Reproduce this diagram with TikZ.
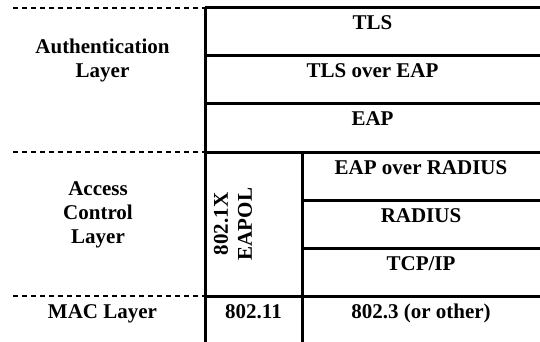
\documentclass[tikz,border=0pt]{standalone}
\usepackage{fontspec}
\setmainfont{Liberation Serif}
\usetikzlibrary{positioning}
\tikzset{
  every node/.style={font=\fontsize{10.5}{12}\selectfont\bfseries, inner sep=0pt, outer sep=0pt},
  cell/.style={text height=11pt, text depth=13pt},
  wide/.style={cell, minimum width=167.5pt},
  half/.style={cell, minimum width=119pt},
  layer/.style={align=center},
  grid/.style={line width=1.5pt},
  layerline/.style={line width=0.6pt, dash pattern=on 2.5pt off 2pt},
}

\begin{document}
\begin{tikzpicture}
    \useasboundingbox (0,0) rectangle (270pt,-171pt);
    \coordinate (floor) at (0,-171pt);

    % upper block
    \node [wide, anchor=north west] (tls) at (102.5pt,-4pt) {TLS};
    \node [wide, below=0pt of tls] (tlseap) {TLS over EAP};
    \node [wide, below=0pt of tlseap] (eap) {EAP};

    % right column
    \node [half, anchor=north east] (eapradius) at (eap.south east) {EAP over RADIUS};
    \node [half, below=0pt of eapradius] (radius) {RADIUS};
    \node [half, below=0pt of radius] (tcpip) {TCP/IP};
    \node [half, below=0pt of tcpip] (dot3) {802.3 (or other)};

    % middle column
    \node [cell, minimum width=48.5pt, anchor=north east] (dot11) at (dot3.north west) {802.11};
    \node [layer, rotate=90] (eapol) at ([xshift=-34.5pt]radius.west) {802.1X\\EAPOL};

    % layer names
    \node [layer] (auth) at (51.25pt,-30pt) {Authentication\\Layer};
    \node [layer] (access) at (49pt,-107.5pt) {Access\\Control\\Layer};
    \node [cell, minimum width=102.5pt, anchor=north east] (mac) at (dot11.north west) {MAC Layer};

    % grid
    \draw[grid] (tls.north west) -- (tls.north east);
    \foreach \c in {tls,tlseap,eap,eapradius,radius,tcpip}
        \draw[grid] (\c.south west) -- (\c.south east);
    \draw[grid] (dot11.north west) -- (dot11.north east);
    \draw[grid] (tls.north west) -- (tls.north west |- floor);
    \draw[grid] (eapradius.north west) -- (eapradius.north west |- floor);

    % layer borders
    \draw[layerline] ([xshift=-96pt]tls.north west) -- (tls.north west);
    \draw[layerline] ([xshift=-96pt]eap.south west) -- (eap.south west);
    \draw[layerline] ([xshift=-96pt]dot11.north west) -- (dot11.north west);
\end{tikzpicture}
\end{document}
